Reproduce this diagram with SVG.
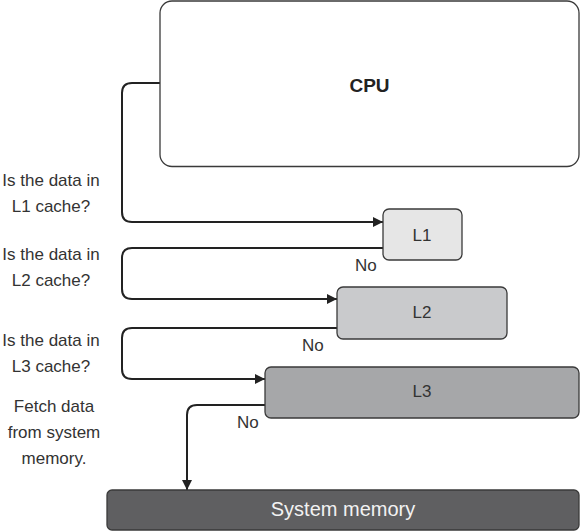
<svg xmlns="http://www.w3.org/2000/svg" width="580" height="531" viewBox="0 0 580 531">
<style>
.box{stroke:#3a3a3a;stroke-width:1.3}
.lbl{font-family:"Liberation Sans",Arial,sans-serif;font-size:17px;fill:#333;text-anchor:middle}
.side{font-family:"Liberation Sans",Arial,sans-serif;font-size:17px;fill:#333;text-anchor:middle}
.no{font-family:"Liberation Sans",Arial,sans-serif;font-size:17px;fill:#333}
.conn{fill:none;stroke:#222;stroke-width:2}
</style>
<defs>
<marker id="arr" viewBox="0 0 10 10" refX="10" refY="5" markerWidth="10" markerHeight="10" markerUnits="userSpaceOnUse" orient="auto">
<path d="M0,0 L10,5 L0,10 Z" fill="#222"/>
</marker>
</defs>
<rect width="580" height="531" fill="#ffffff"/>
<g id="connectors">
<path class="conn" d="M160,83 H132 Q122,83 122,93 V212 Q122,222 132,222 H383" marker-end="url(#arr)"/>
<path class="conn" d="M383,248 H132 Q122,248 122,258 V289 Q122,299 132,299 H337" marker-end="url(#arr)"/>
<path class="conn" d="M337,328 H132 Q122,328 122,338 V369 Q122,379 132,379 H265" marker-end="url(#arr)"/>
<path class="conn" d="M265,405 H197 Q187,405 187,415 V490" marker-end="url(#arr)"/>
</g>
<g id="cpu">
<rect class="box" x="160" y="1" width="419" height="165.5" rx="12" fill="#ffffff"/>
<text x="369.5" y="92" font-family="Liberation Sans,Arial,sans-serif" font-size="19" font-weight="bold" fill="#222" text-anchor="middle">CPU</text>
</g>
<g id="l1">
<rect class="box" x="383" y="209" width="79" height="51" rx="6" fill="#e6e6e6"/>
<text class="lbl" x="422" y="241">L1</text>
</g>
<g id="l2">
<rect class="box" x="337" y="287" width="170" height="52" rx="6" fill="#c9cacc"/>
<text class="lbl" x="422" y="318">L2</text>
</g>
<g id="l3">
<rect class="box" x="265" y="367" width="314" height="51" rx="6" fill="#a6a7a9"/>
<text class="lbl" x="422" y="397">L3</text>
</g>
<g id="sysmem">
<rect class="box" x="107" y="490" width="472" height="40" rx="5" fill="#5f5f61"/>
<text x="343" y="516" font-family="Liberation Sans,Arial,sans-serif" font-size="20" fill="#f2f2f2" text-anchor="middle">System memory</text>
</g>
<g id="labels">
<text class="no" x="355" y="271">No</text>
<text class="no" x="302" y="351">No</text>
<text class="no" x="237" y="428">No</text>
<text class="side" x="51" y="186">Is the data in</text>
<text class="side" x="51" y="212">L1 cache?</text>
<text class="side" x="51" y="260">Is the data in</text>
<text class="side" x="51" y="286">L2 cache?</text>
<text class="side" x="51" y="346">Is the data in</text>
<text class="side" x="51" y="372">L3 cache?</text>
<text class="side" x="54" y="412">Fetch data</text>
<text class="side" x="54" y="438">from system</text>
<text class="side" x="54" y="464">memory.</text>
</g>
</svg>
